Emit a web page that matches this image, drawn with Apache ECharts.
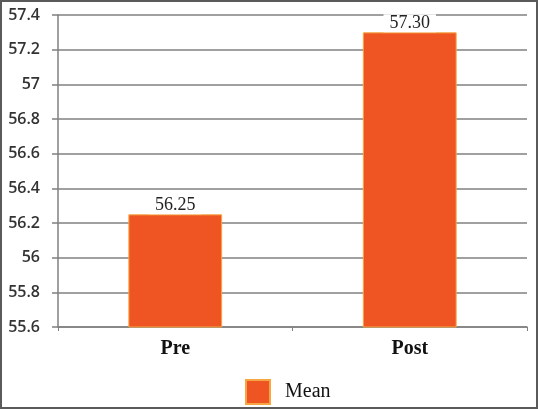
<!DOCTYPE html>
<html>
<head>
<meta charset="utf-8">
<script src="https://cdn.jsdelivr.net/npm/echarts@6/dist/echarts.min.js"></script>
<style>
  html, body { margin: 0; padding: 0; background: #fff; }
  #chart { width: 538px; height: 409px; position: absolute; left: 0; top: 0; }
  #frame { position: absolute; left: 0; top: 0; width: 538px; height: 409px;
           box-sizing: border-box; border: 2px solid #5a5a5a; pointer-events: none; }
</style>
</head>
<body>
<div id="chart"></div>
<div id="frame"></div>
<script>
const categories = ['Pre', 'Post'];
const meanValues = [56.25, 57.30];
const seriesName = 'Mean';
const yMin = 55.6, yMax = 57.4, yStep = 0.2;

const chart = echarts.init(document.getElementById('chart'));

const option = {
  animation: false,
  grid: { left: 58, right: 11, top: 15, bottom: 82 },
  legend: {
    data: [seriesName],
    left: 240,
    top: 374,
    itemWidth: 24,
    itemHeight: 24,
    icon: 'rect',
    textStyle: {
      fontFamily: 'Liberation Serif',
      fontSize: 20,
      color: '#111',
      padding: [0, 0, 0, 10]
    }
  },
  xAxis: {
    type: 'category',
    data: categories,
    axisLine: { lineStyle: { color: '#808080', width: 1.5 } },
    axisTick: { show: true, length: 4, lineStyle: { color: '#808080' } },
    axisLabel: {
      margin: 12,
      fontFamily: 'Liberation Serif',
      fontWeight: 'bold',
      fontSize: 20,
      color: '#111'
    }
  },
  yAxis: {
    type: 'value',
    min: yMin,
    max: yMax,
    interval: yStep,
    axisLine: { show: true, lineStyle: { color: '#808080', width: 1.5 } },
    axisTick: { show: true, length: 6, lineStyle: { color: '#808080', width: 1.5 } },
    axisLabel: {
      margin: 18,
      fontFamily: 'Open Sans',
      fontWeight: 600,
      fontSize: 16,
      color: '#333',
      formatter: v => String(Math.round(v * 10) / 10)
    },
    splitLine: { lineStyle: { color: '#808080', width: 1.5 } }
  },
  series: [{
    name: seriesName,
    type: 'bar',
    data: meanValues,
    barWidth: '40%',
    itemStyle: {
      color: '#EF5523',
      borderColor: '#F6A640',
      borderWidth: 1
    },
    label: {
      show: true,
      position: 'top',
      distance: 0,
      formatter: p => p.value.toFixed(2),
      fontFamily: 'Liberation Serif',
      fontSize: 18,
      color: '#222',
      backgroundColor: '#fff',
      padding: [0, 6, 0, 6]
    }
  }]
};

chart.setOption(option);
</script>
</body>
</html>
